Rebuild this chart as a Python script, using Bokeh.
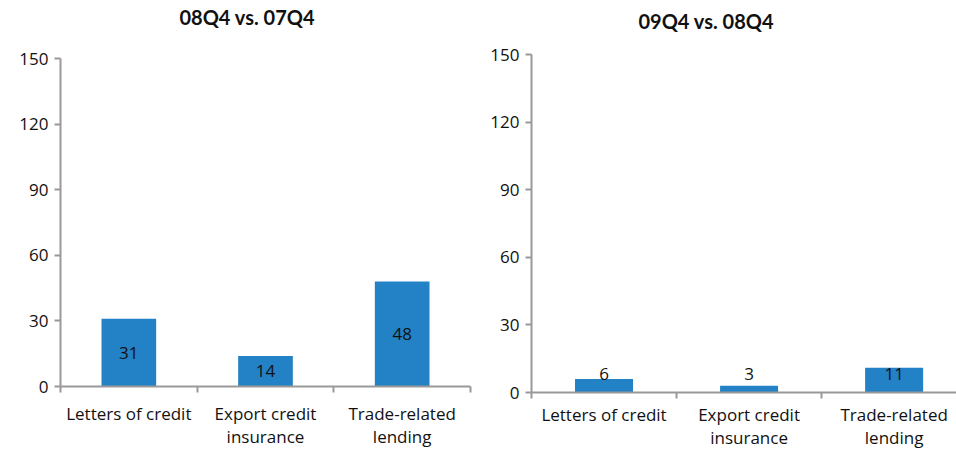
from bokeh.plotting import figure
from bokeh.layouts import row, column
from bokeh.models import ColumnDataSource, FixedTicker, Range1d, LinearAxis, Title
from bokeh.core.properties import value
from bokeh.embed import file_html
from bokeh.resources import INLINE

categories = ["Letters of credit", "Export credit\ninsurance", "Trade-related\nlending"]
values_08 = [31, 14, 48]
values_09 = [6, 3, 11]
titles = ["08Q4 vs. 07Q4", "09Q4 vs. 08Q4"]
y_ticks = [0, 30, 60, 90, 120, 150]

FONT = "Open Sans"
TFONT = "Lato"
FS = "17px"
BAR = "#2381c5"
AXIS = "#999999"
TXT = "#111111"


def make(title, vals, width, height, x_end, border_left, border_right, border_top, border_bottom,
         title_gap, title_offset, centered, lab_standoff, lab_lh):
    xs = [i + 0.5 for i in range(len(categories))]
    src = ColumnDataSource(dict(
        x=xs, top=vals, mid=[v / 2 for v in vals], base=[0] * len(vals),
        lab=[str(v) for v in vals]))
    p = figure(width=width, height=height, output_backend="svg", toolbar_location=None,
               title=None,
               x_range=Range1d(0, x_end), y_range=Range1d(0, 150),
               min_border_left=border_left, min_border_right=border_right,
               min_border_top=border_top, min_border_bottom=border_bottom,
               x_axis_type=None, y_axis_type=None)
    # spacer between title and plot area
    p.add_layout(Title(text=" ", text_font_size="1px", standoff=title_gap), "above")
    p.add_layout(Title(text=title, align="left", offset=title_offset, vertical_align="bottom",
                       standoff=0, text_font=TFONT, text_font_size="20px",
                       text_font_style="bold", text_color=TXT), "above")
    p.outline_line_color = None
    p.grid.visible = False

    p.vbar(x="x", top="top", bottom=0, width=0.4, source=src, fill_color=BAR, line_color=None)
    if centered:
        p.text(x="x", y="mid", text="lab", source=src, text_align="center", text_baseline="middle",
               text_font=value(FONT), text_font_size=FS, text_color=TXT)
    else:
        p.text(x="x", y="base", text="lab", source=src, text_align="center", text_baseline="middle",
               y_offset=-19, text_font=value(FONT), text_font_size=FS, text_color=TXT)

    ya = LinearAxis(ticker=FixedTicker(ticks=y_ticks))
    ya.axis_line_color = AXIS
    ya.axis_line_width = 2
    ya.major_tick_line_color = AXIS
    ya.major_tick_line_width = 2
    ya.major_tick_out = 6
    ya.major_tick_in = 0
    ya.minor_tick_line_color = None
    ya.major_label_text_font = FONT
    ya.major_label_text_font_size = FS
    ya.major_label_text_color = TXT
    ya.major_label_standoff = 6
    p.add_layout(ya, "left")

    xa = LinearAxis(ticker=FixedTicker(ticks=xs, minor_ticks=list(range(len(categories) + 1))))
    xa.major_label_overrides = {x: c for x, c in zip(xs, categories)}
    xa.axis_line_color = AXIS
    xa.axis_line_width = 2
    xa.major_tick_line_color = None
    xa.major_tick_out = 0
    xa.minor_tick_line_color = AXIS
    xa.minor_tick_line_width = 2
    xa.minor_tick_out = 6
    xa.minor_tick_in = 0
    xa.major_label_text_font = FONT
    xa.major_label_text_font_size = FS
    xa.major_label_text_color = TXT
    xa.major_label_standoff = lab_standoff
    xa.major_label_text_line_height = lab_lh
    p.add_layout(xa, "below")
    return p


p1 = make(titles[0], values_08, 480, 451, 3, 60, 10, 58, 63, 27, 119, True, 9, 1.04)
p2 = make(titles[1], values_09, 476, 451, 2.93, 51, 0, 54, 58, 19, 107, False, 4, 1.0)

layout = row(column(p1), column(p2), spacing=0)
open("out.html", "w").write(file_html(layout, INLINE))
